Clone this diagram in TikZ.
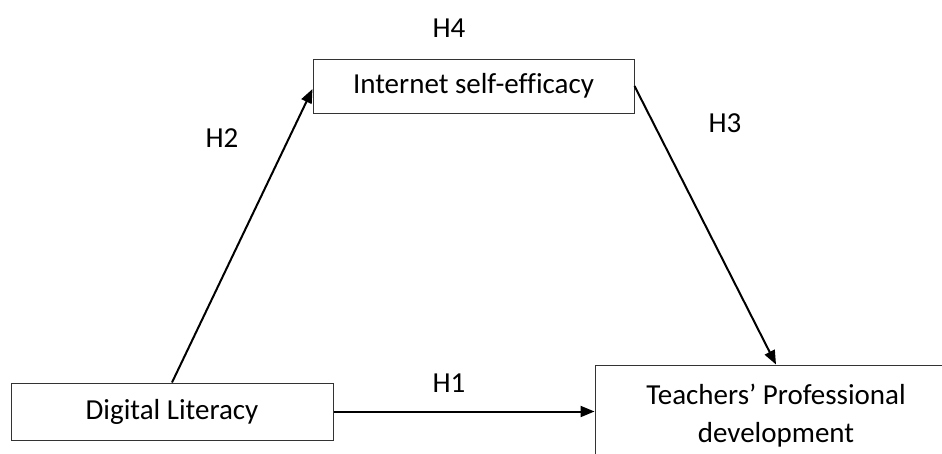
\documentclass[tikz,border=0pt]{standalone}
\usepackage{fontspec}
\setmainfont[Ligatures=NoCommon]{Carlito}
\usetikzlibrary{arrows.meta,calc}

\tikzset{
  varbox/.style={draw=black!80, line width=1pt, inner sep=0pt, align=center,
                 font=\fontsize{29}{38}\selectfont},
  path arrow/.style={line width=2pt, -{Triangle[length=14pt,width=11pt]}},
  hyp/.style={font=\fontsize{29}{32}\selectfont, inner sep=0pt}
}

\begin{document}
\begin{tikzpicture}[x=1pt,y=-1pt]
  \useasboundingbox (0,0) rectangle (942,453);
  \clip (0,0) rectangle (942,453);

  % constructs
  \node[varbox, minimum width=322pt, minimum height=57pt] (dl) at (172,411.5) {Digital Literacy};
  \node[varbox, minimum width=321pt, minimum height=54pt] (ise) at (473.5,86) {Internet self-efficacy};
  \node[varbox, minimum width=362pt, minimum height=102pt] (tpd) at (776,416) {Teachers’ Professional\\development};

  % hypothesised paths
  \draw[path arrow] (dl.north) -- ([yshift=-3pt]ise.west);
  \draw[path arrow] (ise.east) -- (tpd.north);
  \draw[path arrow] (dl.east) -- (dl.east -| tpd.west);

  % hypothesis labels
  \node[hyp] (h4) at (449,28) {H4};
  \node[hyp] (h2) at (222,138) {H2};
  \node[hyp] (h3) at (725,123) {H3};
  \node[hyp] (h1) at (449,383) {H1};
\end{tikzpicture}
\end{document}
